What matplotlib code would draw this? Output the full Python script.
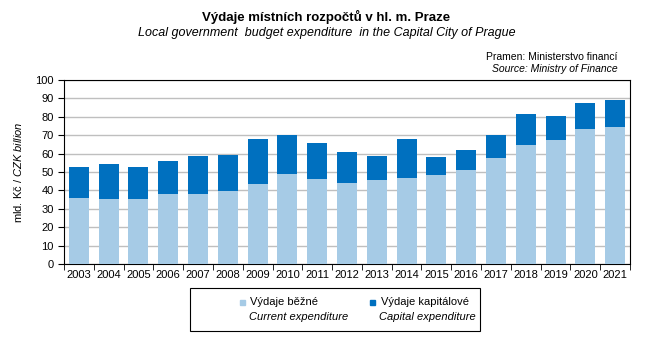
import numpy as np
import matplotlib.pyplot as plt
from matplotlib.patches import Rectangle

plt.rcParams['font.family'] = ['Liberation Sans', 'DejaVu Sans']
plt.rcParams['mathtext.fontset'] = 'custom'
plt.rcParams['mathtext.rm'] = 'Liberation Sans'
plt.rcParams['mathtext.it'] = 'Liberation Sans:italic'

roky = ['2003', '2004', '2005', '2006', '2007', '2008', '2009', '2010', '2011', '2012',
        '2013', '2014', '2015', '2016', '2017', '2018', '2019', '2020', '2021']
bezne = [35.8, 35.1, 35.1, 37.8, 37.8, 39.5, 43.3, 48.7, 46.0, 43.8,
         45.5, 46.5, 48.2, 50.9, 57.5, 64.5, 67.3, 73.3, 74.4]
celkem = [52.5, 54.2, 52.5, 55.8, 58.5, 59.1, 67.8, 70.0, 65.6, 60.7,
          58.5, 67.8, 58.0, 61.8, 70.0, 81.5, 80.4, 87.5, 89.1]
kapitalove = [c - b for c, b in zip(celkem, bezne)]

svetla = '#A6CBE6'
tmava = '#0070BF'

fig = plt.figure(figsize=(6.53, 3.4), dpi=100)
ax = fig.add_axes([64 / 653, 1 - 264 / 340, (630 - 64) / 653, (264 - 80) / 340])

x = np.arange(len(roky))
ax.bar(x, bezne, width=0.67, color=svetla, zorder=3)
ax.bar(x, kapitalove, bottom=bezne, width=0.67, color=tmava, zorder=3)

ax.set_xlim(-0.5, len(roky) - 0.5)
ax.set_ylim(0, 100)
ax.set_yticks(range(0, 101, 10))
ax.yaxis.grid(True, color='#BFBFBF', linewidth=1, zorder=0)
ax.set_xticks(x)
ax.set_xticklabels(roky)
ax.set_xticks(np.arange(-0.5, len(roky), 1), minor=True)
ax.tick_params(axis='x', which='major', length=0, labelsize=8, pad=4)
ax.tick_params(axis='x', which='minor', length=4, direction='out')
ax.tick_params(axis='y', length=4, direction='out', labelsize=8)
for s in ax.spines.values():
    s.set_linewidth(0.8)

ax.set_ylabel(r'mld. Kč $\mathit{/\ CZK\ billion}$', fontsize=8, labelpad=8)

fig.text(0.5, 1 - 17 / 340, 'Výdaje místních rozpočtů v hl. m. Praze',
         ha='center', va='center', fontsize=9.5, fontweight='bold')
fig.text(0.5, 1 - 33 / 340, 'Local government  budget expenditure  in the Capital City of Prague',
         ha='center', va='center', fontsize=9, style='italic')
fig.text(618 / 653, 1 - 57 / 340, 'Pramen: Ministerstvo financí',
         ha='right', va='center', fontsize=7.5)
fig.text(618 / 653, 1 - 69 / 340, 'Source: Ministry of Finance',
         ha='right', va='center', fontsize=7.5, style='italic')

# legenda
fig.patches.append(Rectangle((190 / 653, 1 - 331 / 340), 290 / 653, 43 / 340,
                             transform=fig.transFigure, fill=False,
                             edgecolor='black', linewidth=0.8))
fig.patches.append(Rectangle((240 / 653, 1 - 305 / 340), 5 / 653, 5 / 340,
                             transform=fig.transFigure, color=svetla))
fig.patches.append(Rectangle((370 / 653, 1 - 305 / 340), 5 / 653, 5 / 340,
                             transform=fig.transFigure, color=tmava))
fig.text(250 / 653, 1 - 302 / 340, 'Výdaje běžné', ha='left', va='center', fontsize=8)
fig.text(249 / 653, 1 - 317 / 340, 'Current expenditure', ha='left', va='center',
         fontsize=8, style='italic')
fig.text(381 / 653, 1 - 302 / 340, 'Výdaje kapitálové', ha='left', va='center', fontsize=8)
fig.text(379 / 653, 1 - 317 / 340, 'Capital expenditure', ha='left', va='center',
         fontsize=8, style='italic')

fig.savefig('out.png', dpi=100)
